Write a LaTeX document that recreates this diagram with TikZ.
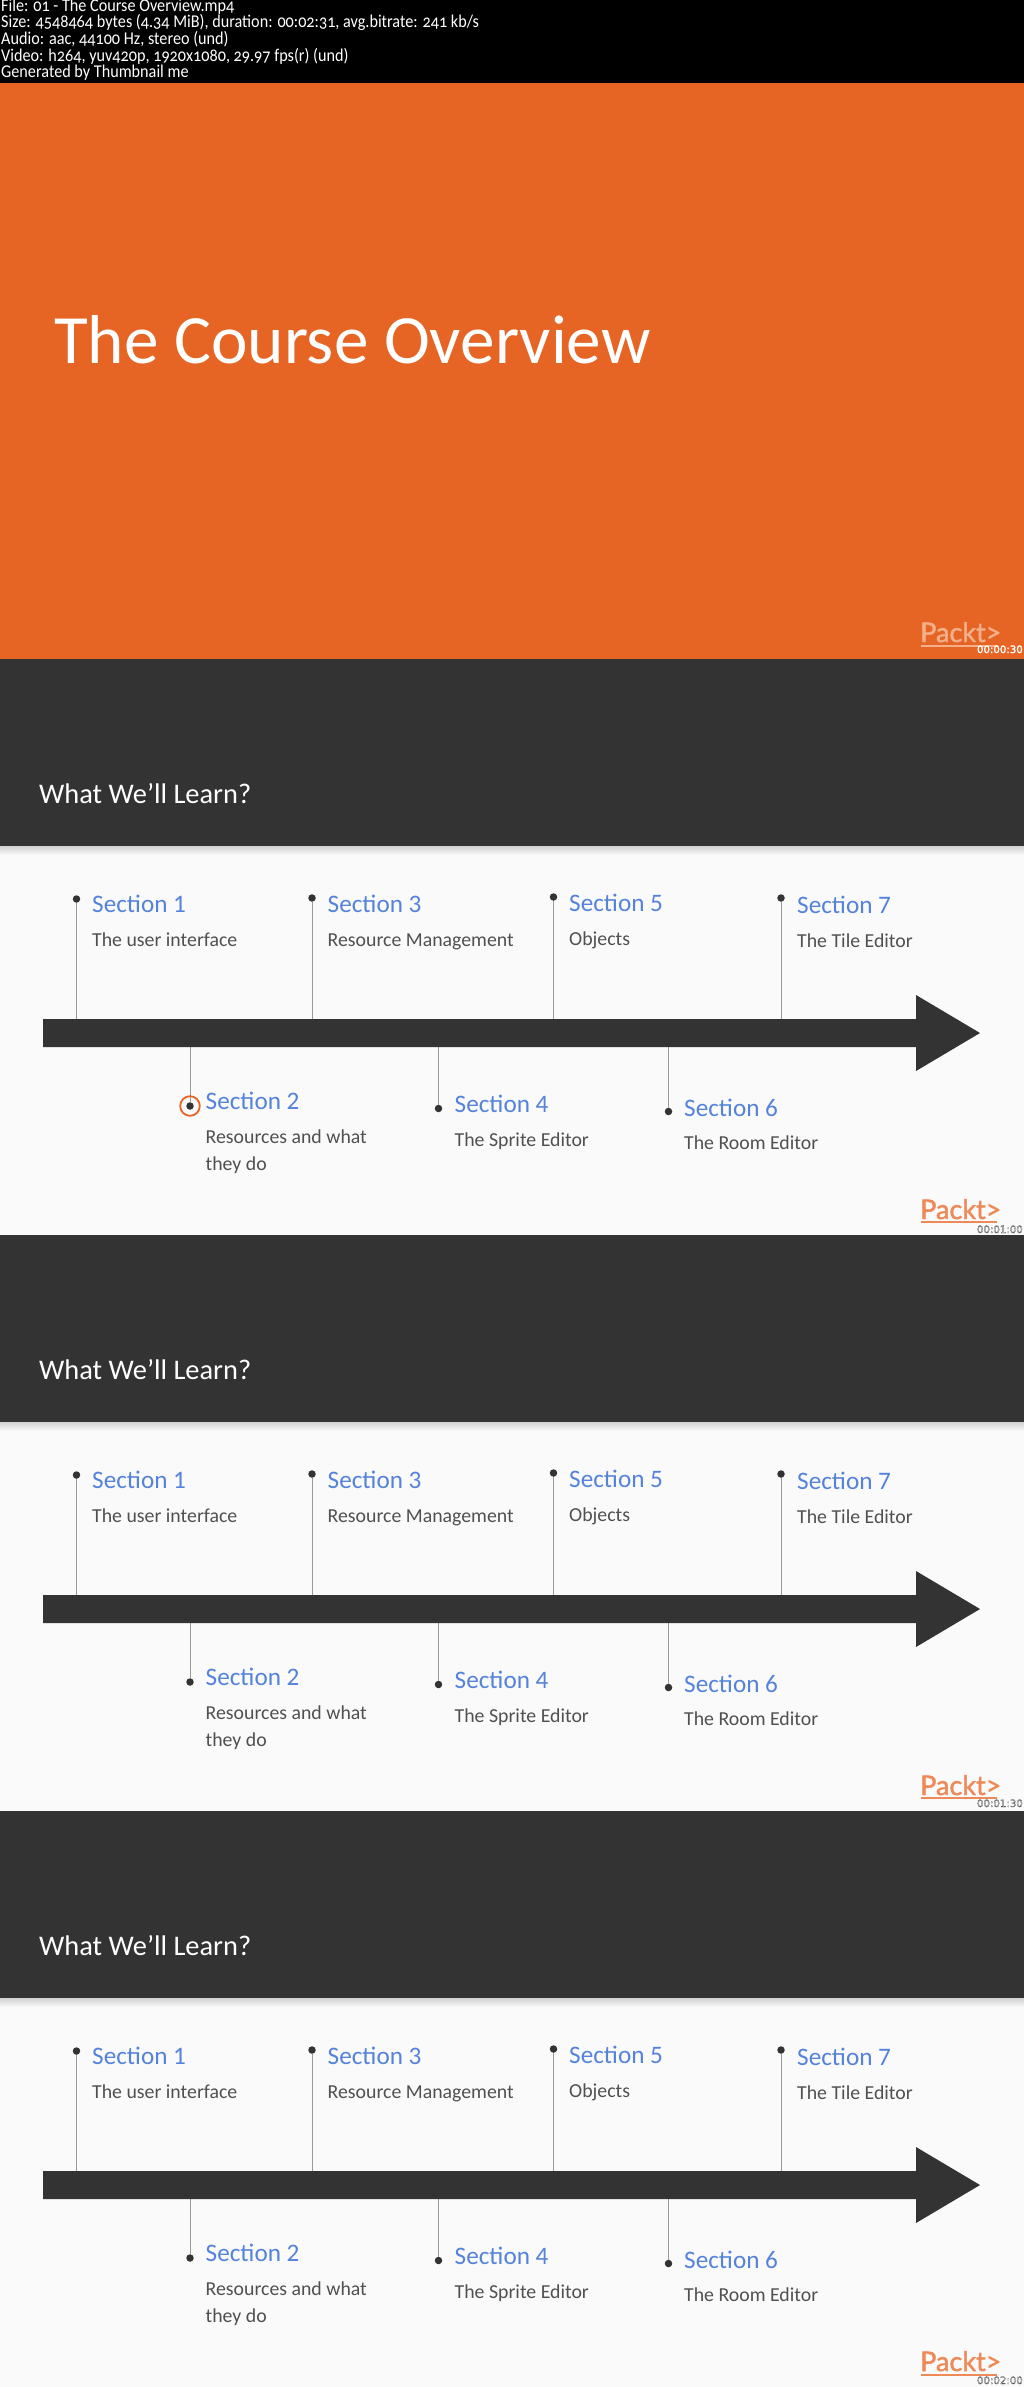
\documentclass[tikz,border=0pt]{standalone}
\usepackage{fontspec}
\setmainfont{Carlito}
\newfontfamily\hdrfont[Numbers=OldStyle,FakeStretch=0.9]{Carlito}
\newfontfamily\logofont{Lato}
\newfontfamily\stampfont{DejaVu Sans}
\definecolor{orangebg}{HTML}{E76524}
\definecolor{darkbg}{HTML}{333333}
\definecolor{lightbg}{HTML}{FAFAFA}
\definecolor{secblue}{HTML}{5583DA}
\definecolor{desc}{HTML}{505050}
\definecolor{stemgray}{HTML}{9A9A9A}
\definecolor{logoorange}{HTML}{EE8A58}
\definecolor{logopeach}{HTML}{F3AE8A}
\newcommand{\outlined}[1]{\special{pdf:code q 1 1 1 rg 0 0 0 RG 0.15 w 2 Tr}#1\special{pdf:code 0 Tr Q}}
\newcommand{\outlinedwhite}[1]{\special{pdf:code q 1 1 1 rg 1 1 1 RG 0.2 w 2 Tr}#1\special{pdf:code 0 Tr Q}}
\newcommand{\logoorangetext}[1]{\special{pdf:code q 0.933 0.541 0.345 rg 0.933 0.541 0.345 RG 0.45 w 2 Tr}#1\special{pdf:code 0 Tr Q}}
\newcommand{\logopeachtext}[1]{\special{pdf:code q 0.953 0.682 0.541 rg 0.953 0.682 0.541 RG 0.45 w 2 Tr}#1\special{pdf:code 0 Tr Q}}
\tikzset{
  x=1pt,y=-1pt,
  hdr/.style={anchor=base west,inner sep=0,text=white,font=\hdrfont\fontsize{18}{18}\selectfont},
  band/.style={fill=darkbg,draw=none},
  sechead/.style={anchor=base west,inner sep=0,text=secblue,font=\fontsize{25.2}{26}\selectfont},
  secdesc/.style={anchor=base west,inner sep=0,text=desc,font=\fontsize{19.8}{20}\selectfont},
  stem/.style={draw=stemgray,line width=0.9pt},
  pin/.style={circle,fill=darkbg,inner sep=0,minimum size=7.5pt},
  stamp/.style={anchor=base east,inner sep=0,text=white,font=\stampfont\fontsize{10.2}{11}\selectfont},
  slidetitle/.style={anchor=base west,inner sep=0,text=white,font=\fontsize{28.4}{30}\selectfont},
  logotext/.style={anchor=base west,inner sep=0,font=\logofont\fontsize{27}{30}\selectfont},
}
\newcommand{\learnslide}[4]{%
\begin{scope}[yshift=-#1pt]
  \fill[lightbg] (0,0) rectangle (1024,576);
  \fill[top color=black!18,bottom color=lightbg] (0,187) rectangle (1024,196);
  \fill[band] (0,0) rectangle (1024,187);
  \node[slidetitle] (title#1) at (39,144) {What We’ll Learn?};
  \coordinate (barT1#1) at (76.5,360); \coordinate (barT3#1) at (312,360);
  \coordinate (barT5#1) at (553.5,360); \coordinate (barT7#1) at (781,360);
  \coordinate (barB2#1) at (190,388); \coordinate (barB4#1) at (438.5,388);
  \coordinate (barB6#1) at (668.5,388);
  \node[pin] (p1#1) at (76.5,240) {};
  \node[pin] (p3#1) at (312,239) {};
  \node[pin] (p5#1) at (553.5,238) {};
  \node[pin] (p7#1) at (781,239) {};
  \node[pin] (p2#1) at (190,447) {};
  \node[pin] (p4#1) at (438.5,449.5) {};
  \node[pin] (p6#1) at (668.5,452.5) {};
  \draw[stem] (p1#1) -- (barT1#1);
  \draw[stem] (p3#1) -- (barT3#1);
  \draw[stem] (p5#1) -- (barT5#1);
  \draw[stem] (p7#1) -- (barT7#1);
  \draw[stem] (p2#1) -- (barB2#1);
  \draw[stem] (p4#1) -- (barB4#1);
  \draw[stem] (p6#1) -- (barB6#1);
  \fill[band] (43,360) -- (916,360) -- (916,336) -- (980,374) -- (916,412) -- (916,388) -- (43,388) -- cycle;
  \node[sechead] (s1#1) at (92,253) {Section 1};
  \node[secdesc] (d1#1) at (92,287) {The user interface};
  \node[sechead] (s3#1) at (327.5,253) {Section 3};
  \node[secdesc] (d3#1) at (327.5,287) {Resource Management};
  \node[sechead] (s5#1) at (569,252.5) {Section 5};
  \node[secdesc] (d5#1) at (569,286) {Objects};
  \node[sechead] (s7#1) at (797,254) {Section 7};
  \node[secdesc] (d7#1) at (797,288) {The Tile Editor};
  \node[sechead] (s2#1) at (205.5,450) {Section 2};
  \node[secdesc] (d2#1) at (205.5,484) {Resources and what};
  \node[secdesc] (e2#1) at (205.5,511) {they do};
  \node[sechead] (s4#1) at (454.5,453) {Section 4};
  \node[secdesc] (d4#1) at (454.5,487) {The Sprite Editor};
  \node[sechead] (s6#1) at (684,457) {Section 6};
  \node[secdesc] (d6#1) at (684,490) {The Room Editor};
  \node[logotext] (logo#1) at (920,560) {\logoorangetext{Packt>}};
  \draw[logoorange,line width=2pt] (921,#4) -- (997,#4);
  \node[stamp] (st#1) at (1023,#3) {\outlined{#2}};
\end{scope}}
\begin{document}
\begin{tikzpicture}
\useasboundingbox (0,0) rectangle (1024,2387);
\fill[black] (0,0) rectangle (1024,83);
\fill[orangebg] (0,83) rectangle (1024,659);
\node[hdr] (h1) at (1,12) {File: 01 - The Course Overview.mp4};
\node[hdr] (h2) at (1,28) {Size: 4548464 bytes (4.34 MiB), duration: 00:02:31, avg.bitrate: 241 kb/s};
\node[hdr] (h3) at (1,45) {Audio: aac, 44100 Hz, stereo (und)};
\node[hdr] (h4) at (1,62) {Video: h264, yuv420p, 1920x1080, 29.97 fps(r) (und)};
\node[hdr] (h5) at (1,78) {Generated by Thumbnail me};
\node[anchor=base west,inner sep=0,text=white,font=\fontsize{69.2}{70}\selectfont] (maintitle) at (54,363) {The Course Overview};
\node[logotext] (logo0) at (920,642) {\logopeachtext{Packt>}};
\draw[logopeach,line width=2pt] (921,646) -- (998,646);
\node[stamp] (st0) at (1023,653) {\outlinedwhite{00:00:30}};
\learnslide{659}{00:01:00}{574}{563}
\learnslide{1235}{00:01:30}{572}{563}
\learnslide{1811}{00:02:00}{573}{564}
\draw[orangebg,line width=1.8pt] (190,1106) circle (9.8pt);
\end{tikzpicture}
\end{document}
